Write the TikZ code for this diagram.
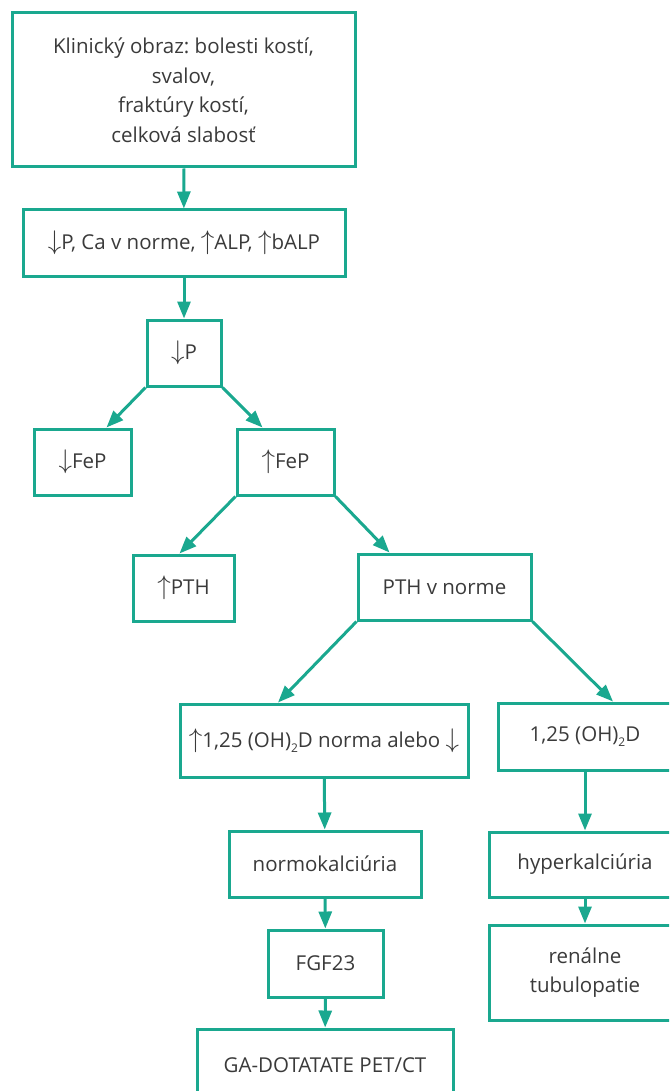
\documentclass[tikz,border=0pt]{standalone}
\usepackage{fontspec}
\setmainfont{Open Sans}
\usepackage{xcolor}
\usetikzlibrary{arrows.meta}
\frenchspacing
\definecolor{zelena}{HTML}{1AA88F}
\definecolor{sivy}{HTML}{3A3A3A}
\newcommand{\hore}{\scalebox{1.3}{$\uparrow$}}
\newcommand{\dole}{\scalebox{1.3}{$\downarrow$}}
\newcommand{\dva}{\raisebox{-5pt}{\fontsize{12}{12}\selectfont 2}}
\tikzset{
	box/.style={draw=zelena, line width=3pt, rectangle, align=center, text=sivy, inner sep=0pt},
	sipka/.style={draw=zelena, line width=3pt, -{Triangle[width=13pt,length=17pt]}}
}

\begin{document}
\begin{tikzpicture}[x=1pt,y=-1pt,font=\fontsize{20.5}{29.5}\selectfont]
	\useasboundingbox (0,0) rectangle (669,1091);
	\clip (0,0) rectangle (669,1091);
	\node[box, minimum width=343, minimum height=154] at (183.5,90) (klin) {Klinický obraz: bolesti kostí,\\svalov,\\fraktúry kostí,\\celková slabosť};
	\node[box, minimum width=322, minimum height=66] at (184,243) (alp) {\dole P, Ca v norme, \hore ALP, \hore bALP};
	\node[box, minimum width=74, minimum height=66] at (184,353) (p) {\dole P};
	\node[box, minimum width=97, minimum height=66] at (82.5,462) (fepdole) {\dole FeP};
	\node[box, minimum width=97, minimum height=66] at (285.5,462) (fephore) {\hore FeP};
	\node[box, minimum width=101, minimum height=66] at (183.5,588) (pthhore) {\hore PTH};
	\node[box, minimum width=173, minimum height=66] at (444.5,587) (pthnorma) {PTH v norme};
	\node[box, minimum width=288, minimum height=73] at (324,740.5) (vitd) {\hore 1,25 (OH)\dva D norma alebo \dole};
	\node[box, minimum width=174, minimum height=67] at (585,736.5) (vitdvys) {1,25 (OH)\dva D};
	\node[box, minimum width=192, minimum height=66] at (325,864) (normo) {normokalciúria};
	\node[box, minimum width=192, minimum height=65] at (585,864.5) (hyper) {hyperkalciúria};
	\node[box, minimum width=115, minimum height=67] at (325.5,963.5) (fgf) {FGF23};
	\node[box, minimum width=256, minimum height=72] at (325,1065) (ga) {GA-DOTATATE PET/CT};
	\node[box, minimum width=192, minimum height=95] at (585,972.5) (renal) {renálne\\tubulopatie};
	\draw[sipka] (klin) to (alp);
	\draw[sipka] (alp) to (p);
	\draw[sipka] (p.south west) to ([xshift=24pt]fepdole.north);
	\draw[sipka] (p.south east) to ([xshift=-23pt]fephore.north);
	\draw[sipka] (fephore.south west) to ([xshift=-4pt]pthhore.north);
	\draw[sipka] (fephore.south east) to ([xshift=-55pt]pthnorma.north);
	\draw[sipka] (pthnorma.south west) to ([xshift=-46pt]vitd.north);
	\draw[sipka] (pthnorma.south east) to ([xshift=28pt]vitdvys.north);
	\draw[sipka] (vitd) to (normo);
	\draw[sipka] (normo) to (fgf);
	\draw[sipka] (fgf) to (ga);
	\draw[sipka] (vitdvys) to (hyper);
	\draw[sipka] (hyper) to (renal);
\end{tikzpicture}
\end{document}
